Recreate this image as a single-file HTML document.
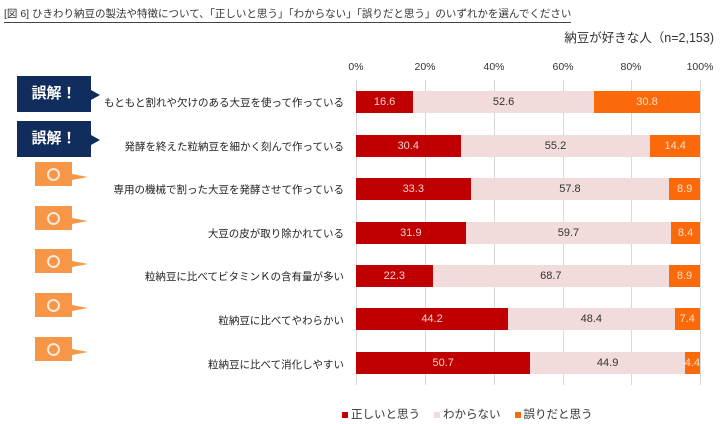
<!DOCTYPE html>
<html><head><meta charset="utf-8"><style>
body{margin:0;width:720px;height:424px;background:#fff;font-family:"Liberation Sans","Noto Sans CJK JP",sans-serif;position:relative;overflow:hidden;color:#222}
.a{position:absolute;white-space:nowrap}
.g{position:absolute;top:80px;height:305px;width:1px;background:#d9d9d9}
.t{position:absolute;top:61px;font-size:10.5px;width:40px;text-align:center;color:#333}
.lab{position:absolute;right:376px;font-size:10.5px;color:#222;white-space:nowrap}
.bar{position:absolute;height:22px;display:flex}
.bar div{height:100%;font-size:11px;display:flex;align-items:center;justify-content:center;overflow:hidden}
.r{background:#c00000;color:#f3d0d0}.l{background:#f2dcdb;color:#333}.o{background:#fa6a0a;color:#fde0c8}
.nv{position:absolute;left:17px;width:74px;height:36px;background:#112d5e;color:#fff;font-weight:bold;font-size:15px;line-height:36px;text-align:center}
.nv:after{content:"";position:absolute;right:-9px;top:14px;border-left:9px solid #112d5e;border-top:5px solid transparent;border-bottom:5px solid transparent}
.ob{position:absolute;left:35px;width:37px;height:24px;background:#f79646}
.ob:before{content:"";position:absolute;left:12px;top:6px;width:9px;height:9px;border:2px solid #fde9d9;border-radius:50%}
.ob:after{content:"";position:absolute;right:-16px;top:12px;border-left:16px solid #f79646;border-top:3px solid transparent;border-bottom:3px solid transparent}
</style></head><body>
<div class="a" style="left:4px;top:6px;font-size:10.5px;border-bottom:1px solid #444;padding-bottom:1px;color:#333">[図 6] ひきわり納豆の製法や特徴について、「正しいと思う」「わからない」「誤りだと思う」のいずれかを選んでください</div>
<div class="a" style="right:6px;top:27px;font-size:12.5px;color:#333">納豆が好きな人（n=2,153)</div>
<div class="g" style="left:356px"></div><div class="g" style="left:425px"></div><div class="g" style="left:494px"></div><div class="g" style="left:563px"></div><div class="g" style="left:631px"></div><div class="g" style="left:700px"></div>
<div class="t" style="left:336px">0%</div><div class="t" style="left:405px">20%</div><div class="t" style="left:474px">40%</div><div class="t" style="left:543px">60%</div><div class="t" style="left:611px">80%</div><div class="t" style="left:680px">100%</div>

<div class="nv" style="top:76px">誤解！</div>
<div class="nv" style="top:121px">誤解！</div>
<div class="ob" style="top:162px"></div>
<div class="ob" style="top:206px"></div>
<div class="ob" style="top:249px"></div>
<div class="ob" style="top:293px"></div>
<div class="ob" style="top:337px"></div>

<div class="lab" style="top:95px">もともと割れや欠けのある大豆を使って作っている</div>
<div class="lab" style="top:139px">発酵を終えた粒納豆を細かく刻んで作っている</div>
<div class="lab" style="top:182px">専用の機械で割った大豆を発酵させて作っている</div>
<div class="lab" style="top:226px">大豆の皮が取り除かれている</div>
<div class="lab" style="top:269px">粒納豆に比べてビタミンＫの含有量が多い</div>
<div class="lab" style="top:313px">粒納豆に比べてやわらかい</div>
<div class="lab" style="top:357px">粒納豆に比べて消化しやすい</div>

<div class="bar" style="left:356px;width:344px;top:91px"><div class="r" style="width:16.6%">16.6</div><div class="l" style="width:52.6%">52.6</div><div class="o" style="width:30.8%">30.8</div></div>
<div class="bar" style="left:356px;width:344px;top:135px"><div class="r" style="width:30.4%">30.4</div><div class="l" style="width:55.2%">55.2</div><div class="o" style="width:14.4%">14.4</div></div>
<div class="bar" style="left:356px;width:344px;top:178px"><div class="r" style="width:33.3%">33.3</div><div class="l" style="width:57.8%">57.8</div><div class="o" style="width:8.9%">8.9</div></div>
<div class="bar" style="left:356px;width:344px;top:222px"><div class="r" style="width:31.9%">31.9</div><div class="l" style="width:59.7%">59.7</div><div class="o" style="width:8.4%">8.4</div></div>
<div class="bar" style="left:356px;width:344px;top:265px"><div class="r" style="width:22.3%">22.3</div><div class="l" style="width:68.7%">68.7</div><div class="o" style="width:9.0%">8.9</div></div>
<div class="bar" style="left:356px;width:344px;top:308px"><div class="r" style="width:44.2%">44.2</div><div class="l" style="width:48.4%">48.4</div><div class="o" style="width:7.4%">7.4</div></div>
<div class="bar" style="left:356px;width:344px;top:352px"><div class="r" style="width:50.7%">50.7</div><div class="l" style="width:44.9%">44.9</div><div class="o" style="width:4.4%">4.4</div></div>

<div class="a" style="left:342px;top:406px;font-size:11.5px;color:#333"><span style="display:inline-block;width:6px;height:6px;background:#c00000;margin-right:3px"></span>正しいと思う<span style="display:inline-block;width:6px;height:6px;background:#f2dcdb;margin:0 3px 0 14px"></span>わからない<span style="display:inline-block;width:6px;height:6px;background:#fa6a0a;margin:0 3px 0 14px"></span>誤りだと思う</div>
</body></html>
